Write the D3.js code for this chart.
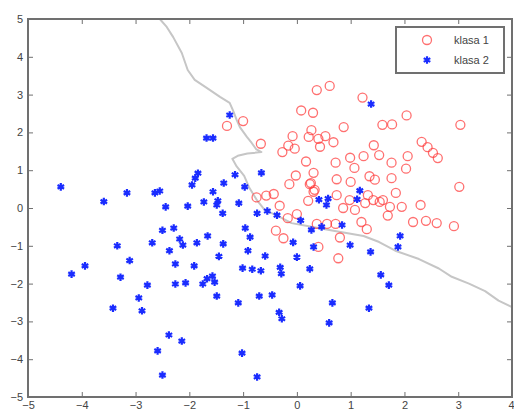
<!DOCTYPE html>
<html>
<head>
<meta charset="utf-8">
<script src="https://cdn.jsdelivr.net/npm/d3@7"></script>
<style>
  html, body { margin: 0; padding: 0; background: #fff; }
  svg { display: block; }
  text { font-family: "Liberation Sans", Arial, sans-serif; }
</style>
</head>
<body>
<svg id="chart" width="514" height="416"></svg>
<script>
// klasa 1 (red circles): [x, y]
const klasa1 = [
  [-1.3, 2.17], [-1.0, 2.3], [-0.67, 1.7], [0.37, 3.12], [0.61, 3.23],
  [0.08, 2.58], [0.3, 2.52], [1.22, 2.92], [0.87, 2.14], [1.59, 2.2],
  [1.77, 2.21], [2.04, 2.45], [3.04, 2.2], [-0.08, 1.9], [0.27, 2.06],
  [0.22, 1.88], [0.4, 1.83], [0.53, 1.9], [0.68, 1.74], [-0.27, 1.48],
  [-0.16, 1.65], [-0.04, 1.57], [0.43, 1.62], [1.43, 1.66], [1.53, 1.4],
  [1.76, 1.2], [2.32, 1.75], [2.43, 1.61], [2.53, 1.46], [2.62, 1.32],
  [2.06, 1.37], [2.03, 1.04], [0.17, 1.23], [0.72, 1.2], [0.99, 1.33],
  [1.24, 1.37], [1.07, 1.06], [0.31, 0.93], [-0.02, 0.86], [-0.14, 0.63],
  [0.26, 0.66], [0.74, 0.76], [1.0, 0.69], [1.35, 0.84], [1.45, 0.75],
  [1.76, 0.79], [3.02, 0.56], [0.21, 0.19], [1.84, 0.4], [2.3, 0.08],
  [-0.43, 0.37], [-0.75, 0.28], [-0.32, 0.06], [-0.17, -0.27], [0.0, -0.16],
  [-0.39, -0.6], [-0.25, -0.8], [0.37, -0.42], [0.56, -0.42], [0.72, -0.42],
  [1.2, -0.37], [1.3, -0.56], [1.69, -0.2], [2.16, -0.37], [2.4, -0.34],
  [2.6, -0.4], [2.92, -0.48], [0.8, -0.78], [0.4, -1.03], [0.77, -1.33],
  [0.31, 0.43], [0.74, 0.34], [0.98, 0.21], [0.86, 0.0], [1.08, -0.05],
  [1.27, 0.13], [1.42, 0.21], [1.54, 0.16], [1.73, 0.03], [1.95, 0.03],
  [1.6, 0.21], [0.24, 0.63], [0.33, 0.48], [-0.57, 0.33], [1.32, 0.34]
];

// klasa 2 (blue stars): [x, y]
const klasa2 = [
  [-1.25, 2.46], [-1.68, 1.85], [-1.56, 1.85], [1.38, 2.75], [-4.39, 0.56],
  [-3.59, 0.17], [-3.16, 0.4], [-2.64, 0.4], [-2.55, 0.45], [-1.84, 0.92],
  [-1.89, 0.79], [-1.95, 0.61], [-1.36, 0.66], [-1.15, 0.88], [-0.97, 0.56],
  [-0.66, 0.93], [-1.56, 0.43], [-1.73, 0.16], [-1.47, 0.19], [-1.49, 0.08],
  [-1.08, 0.13], [-2.03, 0.05], [-2.44, 0.03], [-1.38, -0.14], [-0.74, -0.14],
  [-0.55, -0.08], [-0.37, -0.19], [-2.5, -0.59], [-2.29, -0.53], [-2.69, -0.92],
  [-2.18, -0.82], [-2.12, -0.98], [-2.37, -1.13], [-1.86, -0.92], [-1.66, -0.74],
  [-1.37, -0.95], [-1.45, -1.28], [-0.96, -0.53], [-0.87, -0.77], [-0.91, -1.13],
  [-3.34, -1.0], [-3.11, -1.39], [-3.94, -1.53], [-4.19, -1.75], [-3.28, -1.83],
  [-2.26, -1.48], [-1.91, -1.53], [-2.78, -2.04], [-2.26, -2.01], [-2.07, -1.98],
  [-1.75, -2.01], [-1.67, -1.87], [-1.57, -1.8], [-1.53, -1.96], [-1.49, -2.33],
  [-1.09, -2.51], [-1.01, -1.59], [-0.83, -1.62], [-0.67, -1.66], [-0.7, -2.33],
  [-2.94, -2.38], [-2.88, -2.72], [-3.42, -2.65], [-2.38, -3.36], [-2.14, -3.52],
  [-2.59, -3.78], [-2.5, -4.42], [-1.02, -3.84], [-0.74, -4.47], [0.07, -0.33],
  [0.27, -0.58], [0.46, -0.5], [0.84, -0.45], [-0.07, -0.91], [0.31, -1.03],
  [0.99, -0.98], [1.37, -1.16], [1.92, -0.74], [1.88, -1.03], [-0.59, -1.27],
  [0.0, -1.3], [-0.31, -1.57], [-0.29, -1.74], [0.24, -1.61], [1.56, -1.77],
  [1.71, -2.04], [0.06, -2.06], [-0.46, -2.3], [0.66, -2.51], [1.34, -2.65],
  [-0.33, -2.76], [-0.28, -2.93], [0.6, -3.04], [0.41, 0.22], [0.58, 0.25],
  [0.55, 0.08], [1.17, 0.46], [1.12, 0.23]
];

// decision boundary between the two classes: [x, y]
const boundary = [
  [-2.55, 5.0], [-2.42, 4.79], [-2.3, 4.52], [-2.14, 4.1], [-2.03, 3.65],
  [-1.9, 3.39], [-1.67, 3.17], [-1.43, 2.94], [-1.25, 2.78], [-1.19, 2.59],
  [-1.12, 2.33], [-1.06, 2.14], [-0.93, 1.88], [-0.84, 1.72], [-0.76, 1.56],
  [-0.66, 1.48], [-0.92, 1.44], [-1.1, 1.38], [-1.2, 1.3], [-1.12, 1.1],
  [-0.98, 0.85], [-0.89, 0.55], [-0.74, 0.2], [-0.6, -0.05], [-0.34, -0.22],
  [-0.1, -0.4], [0.22, -0.48], [0.68, -0.6], [1.24, -0.74], [1.53, -0.9],
  [1.83, -1.13], [2.27, -1.35], [2.64, -1.6], [2.88, -1.82], [3.2, -2.0],
  [3.5, -2.2], [3.75, -2.45], [4.0, -2.62]
];

const xTicks = [-5, -4, -3, -2, -1, 0, 1, 2, 3, 4];
const yTicks = [-5, -4, -3, -2, -1, 0, 1, 2, 3, 4, 5];
const legendLabels = ["klasa 1", "klasa 2"];

const svg = d3.select("#chart");
const plotLeft = 28, plotRight = 512, plotTop = 19, plotBottom = 397;

const x = d3.scaleLinear().domain([-5, 4]).range([plotLeft, plotRight]);
const y = d3.scaleLinear().domain([-5, 5]).range([plotBottom, plotTop]);

const frameColor = "#707070";
const textColor = "#444";
const red = "#ff4040";
const blue = "#1a2cff";

// boundary line
svg.append("path")
  .datum(boundary)
  .attr("d", d3.line().x(d => x(d[0])).y(d => y(d[1])))
  .attr("fill", "none")
  .attr("stroke", "#c6c6c6")
  .attr("stroke-width", 2)
  .attr("stroke-linejoin", "round");

// klasa 1 markers
svg.append("g").selectAll("circle")
  .data(klasa1).join("circle")
  .attr("cx", d => x(d[0])).attr("cy", d => y(d[1]))
  .attr("r", 4.5)
  .attr("fill", "none")
  .attr("stroke", red)
  .attr("stroke-opacity", 0.75)
  .attr("stroke-width", 1.3);

// klasa 2 markers
const star = d3.symbol().type(d3.symbolAsterisk).size(40);
svg.append("g").selectAll("path")
  .data(klasa2).join("path")
  .attr("transform", d => `translate(${x(d[0])},${y(d[1])})`)
  .attr("d", star)
  .attr("fill", "none")
  .attr("stroke", blue)
  .attr("stroke-width", 2.2);

// axes: ticks pointing inward on all four sides
const tickLen = 5;
const axB = svg.append("g").attr("transform", `translate(0,${plotBottom})`)
  .call(d3.axisBottom(x).tickValues(xTicks).tickSize(-tickLen).tickPadding(6).tickFormat(d3.format("d")));
const axT = svg.append("g").attr("transform", `translate(0,${plotTop})`)
  .call(d3.axisTop(x).tickValues(xTicks).tickSize(-tickLen).tickFormat(""));
const axL = svg.append("g").attr("transform", `translate(${plotLeft},0)`)
  .call(d3.axisLeft(y).tickValues(yTicks).tickSize(-tickLen).tickPadding(5).tickFormat(d3.format("d")));
const axR = svg.append("g").attr("transform", `translate(${plotRight},0)`)
  .call(d3.axisRight(y).tickValues(yTicks).tickSize(-tickLen).tickFormat(""));

[axB, axT, axL, axR].forEach(a => {
  a.select(".domain").remove();
  a.selectAll(".tick line").attr("stroke", frameColor).attr("stroke-width", 1);
  a.selectAll(".tick text").attr("fill", textColor).attr("font-size", 11);
});
axB.selectAll(".tick text").attr("dy", "0.55em");
// keep the last x label inside the page
axB.selectAll(".tick text").filter(d => d === 4).attr("text-anchor", "end").attr("dx", 2);

// frame
svg.append("rect")
  .attr("x", plotLeft).attr("y", plotTop)
  .attr("width", plotRight - plotLeft).attr("height", plotBottom - plotTop)
  .attr("fill", "none")
  .attr("stroke", frameColor)
  .attr("stroke-width", 2);

// legend
const lg = svg.append("g").attr("transform", "translate(396,27)");
lg.append("rect")
  .attr("width", 108).attr("height", 46)
  .attr("fill", "#fff")
  .attr("stroke", frameColor).attr("stroke-width", 2);
const rows = lg.selectAll("g.row").data(legendLabels).join("g")
  .attr("class", "row")
  .attr("transform", (d, i) => `translate(0,${13 + i * 20})`);
rows.filter((d, i) => i === 0).append("circle")
  .attr("cx", 31).attr("cy", 0).attr("r", 4.5)
  .attr("fill", "none").attr("stroke", red)
  .attr("stroke-opacity", 0.75).attr("stroke-width", 1.3);
rows.filter((d, i) => i === 1).append("path")
  .attr("transform", "translate(31,0)")
  .attr("d", star)
  .attr("fill", "none").attr("stroke", blue).attr("stroke-width", 2.2);
rows.append("text")
  .attr("x", 58).attr("y", 0).attr("dy", "0.35em")
  .attr("font-size", 11)
  .attr("fill", textColor)
  .text(d => d);
</script>
</body>
</html>
